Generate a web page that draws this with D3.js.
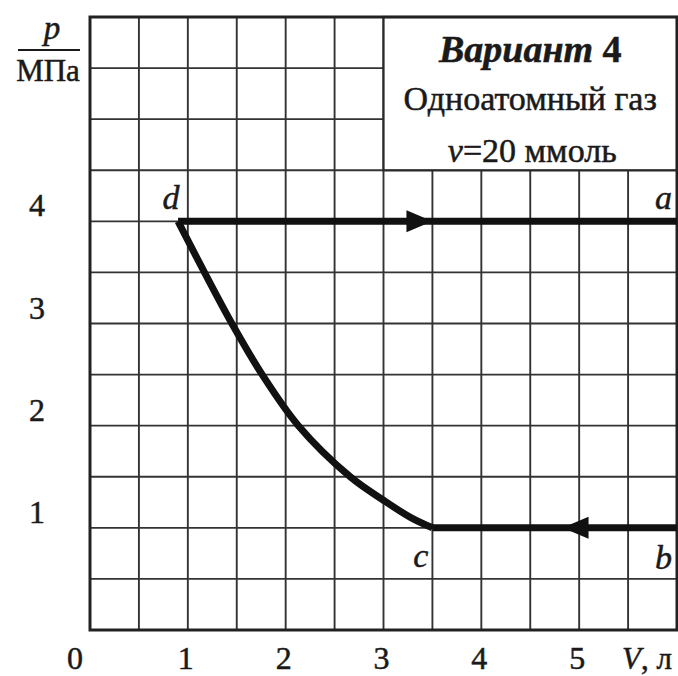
<!DOCTYPE html>
<html>
<head>
<meta charset="utf-8">
<script src="https://cdn.jsdelivr.net/npm/d3@7"></script>
<style>
  html, body { margin: 0; padding: 0; background: #fff; }
  svg { display: block; }
  text { font-family: "Liberation Serif", "DejaVu Serif", serif; fill: #1a1a1a; stroke: #1a1a1a; stroke-width: 0.5; }
</style>
</head>
<body>
<svg id="chart" width="678" height="676"></svg>
<script>
// Axis ticks and grid
const volumeTicks = [0, 1, 2, 3, 4, 5];
const pressureTicks = [1, 2, 3, 4];
const gridVolumes = [0, 0.5, 1, 1.5, 2, 2.5, 3, 3.5, 4, 4.5, 5, 5.5, 6];
const gridPressures = [0, 0.5, 1, 1.5, 2, 2.5, 3, 3.5, 4, 4.5, 5, 5.5, 6];

// Cycle states (V in litres, p in MPa)
const stateNames = ["a", "b", "c", "d"];
const stateV = [6, 6, 3.5, 0.9];
const stateP = [4, 1, 1, 4];

// Curved process c -> d
const curveV = [3.5, 3.28, 3.0, 2.66, 2.13, 1.76, 1.45, 1.17, 0.9];
const curveP = [1.0, 1.1, 1.27, 1.5, 2.0, 2.5, 3.0, 3.5, 4.0];

// Direction arrows: tip position and direction
const arrowV = [3.5, 4.83];
const arrowP = [4, 1];
const arrowDir = [1, -1];

const svg = d3.select("#chart");
const x = d3.scaleLinear().domain([0, 6]).range([90, 677]);
const y = d3.scaleLinear().domain([0, 6]).range([630, 17]);

// Grid
const grid = svg.append("g").attr("stroke", "#333").attr("stroke-width", 1.9);
grid.selectAll("line.v").data(gridVolumes).join("line")
  .attr("x1", d => x(d)).attr("x2", d => x(d))
  .attr("y1", y(0)).attr("y2", y(6));
grid.selectAll("line.h").data(gridPressures).join("line")
  .attr("x1", x(0)).attr("x2", x(6))
  .attr("y1", d => y(d)).attr("y2", d => y(d));

// Info box (covers grid in the top-right corner)
svg.append("rect")
  .attr("x", x(3)).attr("y", y(6))
  .attr("width", x(6) - x(3)).attr("height", y(4.5) - y(6))
  .attr("fill", "#fff").attr("stroke", "#2a2a2a").attr("stroke-width", 2.2);

// Frame
svg.append("rect")
  .attr("x", x(0)).attr("y", y(6))
  .attr("width", x(6) - x(0)).attr("height", y(0) - y(6))
  .attr("fill", "none").attr("stroke", "#222").attr("stroke-width", 3);

// Info box text
const cx = (x(3) + x(6)) / 2;
const t1 = svg.append("text").attr("x", cx).attr("y", 62).attr("text-anchor", "middle")
  .attr("font-size", 38).attr("font-weight", "bold");
t1.append("tspan").attr("font-style", "italic").text("Вариант");
t1.append("tspan").text(" 4");
svg.append("text").attr("x", cx).attr("y", 110).attr("text-anchor", "middle")
  .attr("font-size", 34).text("Одноатомный газ");
const t3 = svg.append("text").attr("x", cx + 2).attr("y", 162).attr("text-anchor", "middle")
  .attr("font-size", 34);
t3.append("tspan").attr("font-style", "italic").text("ν");
t3.append("tspan").text("=20 ммоль");

// Process lines
const lineStyle = sel => sel.attr("fill", "none").attr("stroke", "#111")
  .attr("stroke-width", 7).attr("stroke-linecap", "butt").attr("stroke-linejoin", "miter");

// d -> a isobar
svg.append("line").call(lineStyle)
  .attr("x1", x(stateV[3])).attr("y1", y(stateP[3]))
  .attr("x2", x(stateV[0])).attr("y2", y(stateP[0]));
// b -> c isobar
svg.append("line").call(lineStyle)
  .attr("x1", x(stateV[1])).attr("y1", y(stateP[1]))
  .attr("x2", x(stateV[2])).attr("y2", y(stateP[2]));
// c -> d curve
const curvePts = curveV.map((v, i) => [v, curveP[i]]);
svg.append("path").call(lineStyle)
  .attr("d", d3.line().x(d => x(d[0])).y(d => y(d[1])).curve(d3.curveCatmullRom.alpha(0.5))(curvePts));

// Arrows
arrowV.forEach((v, i) => {
  const tx = x(v), ty = y(arrowP[i]), dir = arrowDir[i];
  const len = 26, half = 11;
  svg.append("path")
    .attr("d", `M${tx},${ty} L${tx - dir * len},${ty - half} L${tx - dir * len},${ty + half} Z`)
    .attr("fill", "#111");
});

// State labels
const labelOffsets = { a: [-5, -12, "end"], b: [-5, 41, "end"], c: [-4, 39, "end"], d: [-7, -12, "middle"] };
stateNames.forEach((n, i) => {
  const o = labelOffsets[n];
  svg.append("text")
    .attr("x", x(stateV[i]) + o[0]).attr("y", y(stateP[i]) + o[1])
    .attr("text-anchor", o[2]).attr("font-size", 34).attr("font-style", "italic")
    .text(n);
});

// Y tick labels
svg.selectAll("text.yt").data(pressureTicks).join("text")
  .attr("x", 37).attr("y", d => y(d) - 5)
  .attr("text-anchor", "middle").attr("font-size", 32)
  .text(d => d);

// X tick labels
svg.selectAll("text.xt").data(volumeTicks).join("text")
  .attr("x", d => d === 0 ? x(d) - 15 : x(d) - 2).attr("y", y(0) + 39)
  .attr("text-anchor", "middle").attr("font-size", 32)
  .text(d => d);

// X axis title
const xt = svg.append("text").attr("x", 622).attr("y", y(0) + 39).attr("font-size", 31);
xt.append("tspan").attr("font-style", "italic").text("V");
xt.append("tspan").text(", л");

// Y axis title as a fraction p / МПа
svg.append("text").attr("x", 52).attr("y", 39).attr("text-anchor", "middle")
  .attr("font-size", 33).attr("font-style", "italic").text("p");
svg.append("line").attr("x1", 18).attr("x2", 80).attr("y1", 50).attr("y2", 50)
  .attr("stroke", "#1a1a1a").attr("stroke-width", 2.2);
svg.append("text").attr("x", 48).attr("y", 81).attr("text-anchor", "middle")
  .attr("font-size", 31).text("МПа");
</script>
</body>
</html>
